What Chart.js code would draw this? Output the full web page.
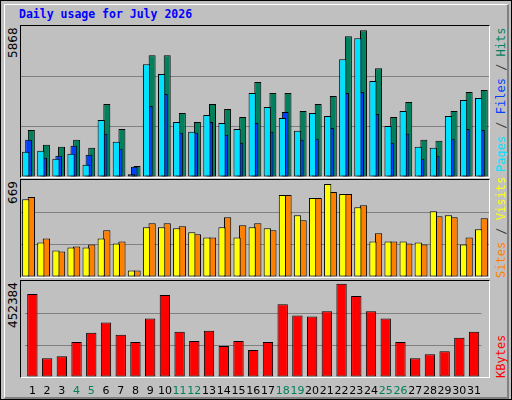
<!DOCTYPE html>
<html><head><meta charset="utf-8">
<script src="https://cdn.jsdelivr.net/npm/chart.js@4/dist/chart.umd.min.js"></script>
<style>
html,body{margin:0;padding:0;background:#fff}
#frame{position:absolute;left:0;top:0;width:510px;height:398px;background:#c0c0c0;border:1px solid #000;}
#inner{position:absolute;left:3px;top:3px;width:502px;height:392px;border-top:1px solid #fff;border-left:1px solid #fff;border-right:2px solid #808080;border-bottom:2px solid #808080}
.panel{position:absolute;left:20px;width:470px;background:#c0c0c0;border-top:1px solid #000;border-left:1px solid #000;border-right:1px solid #fff;border-bottom:1px solid #fff;box-sizing:border-box}
canvas{position:absolute}
.vt{position:absolute;writing-mode:vertical-rl;transform:rotate(180deg);font-family:"DejaVu Sans Mono",monospace;white-space:nowrap}
#title{position:absolute;left:19px;top:7px;font:bold 11.5px "DejaVu Sans Mono",monospace;color:#0000ff}
</style></head><body>
<div id="frame"><div id="inner"></div></div>
<div id="title">Daily usage for July 2026</div>
<div class="panel" style="top:25px;height:153px"></div>
<div class="panel" style="top:179px;height:99px"></div>
<div class="panel" style="top:280px;height:98px"></div>
<div class="vt" style="left:6px;top:27px;height:40px;text-align:end;font-size:12px;font-family:'DejaVu Sans',sans-serif">5868</div>
<div class="vt" style="left:6px;top:181px;height:30px;text-align:end;font-size:12px;font-family:'DejaVu Sans',sans-serif">669</div>
<div class="vt" style="left:6px;top:282px;height:60px;text-align:end;font-size:12px;font-family:'DejaVu Sans',sans-serif">452384</div>
<div class="vt" style="left:494px;top:27px;height:150px;text-align:end;font-size:12px"><span style="color:#00e0ff">Pages</span><span style="color:#404040"> / </span><span style="color:#0040ff">Files</span><span style="color:#404040"> / </span><span style="color:#00805c">Hits</span></div>
<div class="vt" style="left:494px;top:196px;height:82px;text-align:start;font-size:12px"><span style="color:#ff8000">Sites</span><span style="color:#404040"> / </span><span style="color:#ffff00">Visits</span></div>
<div class="vt" style="left:494px;top:300px;height:78px;text-align:start;font-size:12px"><span style="color:#ff0000">KBytes</span></div>
<canvas id="c1" style="left:21px;top:26px"></canvas>
<canvas id="c2" style="left:21px;top:180px"></canvas>
<canvas id="c3" style="left:21px;top:281px"></canvas>
<script>
const days=["1","2","3","4","5","6","7","8","9","10","11","12","13","14","15","16","17","18","19","20","21","22","23","24","25","26","27","28","29","30","31"];
const weekendDays=["4","5","11","12","18","19","25","26"];
const hits=[1831,1251,1174,1444,1135,2837,1870,426,4733,4733,2489,2141,2837,2644,2334,3688,3263,3263,2566,2837,3147,5468,5700,4230,2334,2915,1444,1406,2566,3302,3379];
const files=[980,1019,709,903,477,2218,1367,103,4385,3998,2141,1754,2412,2102,1870,3263,2721,2296,1793,2489,2373,4578,5391,3727,1986,2566,1174,1135,2373,2992,3069];
const pages=[1444,748,825,1212,864,1677,1096,400,2760,3224,1715,1715,2141,1638,1328,2102,1754,2528,1444,1483,1909,3263,3302,2450,1328,1677,709,825,1483,1870,1831];
const visits=[537,238,183,204,204,266,231,44,343,343,336,308,273,343,273,343,336,565,426,544,641,572,481,245,245,245,238,454,426,225,329];
const sites=[551,266,176,211,225,322,245,44,370,370,350,294,273,412,357,370,322,565,391,544,586,572,495,301,245,231,225,419,412,273,405];
const kbytes=[391412,88230,97855,165234,208547,256673,198922,165234,275924,386600,213360,170046,218173,145983,170046,126733,165234,343286,290361,285548,309610,439546,381795,309610,275924,165234,88230,107480,121917,184484,213360];
const maxHits=5868, maxSites=669, maxKB=452384;

function sizeCanvas(id,w,h){const c=document.getElementById(id);c.style.width=w+'px';c.style.height=h+'px';c.width=w;c.height=h;return c;}
function yScale(max){return {min:0,max:max,display:true,border:{display:false},
  ticks:{display:false,stepSize:max/3},
  grid:{drawTicks:false,color:(c)=>(c.index===0||c.index===3)?'rgba(0,0,0,0)':'#808080',lineWidth:1}};}
function bar(data,color,extra){return Object.assign({data:data,backgroundColor:color,borderColor:'#000',borderWidth:1,borderSkipped:false},extra);}
const base={responsive:false,animation:false,layout:{padding:0},plugins:{legend:{display:false},tooltip:{enabled:false}}};

new Chart(sizeCanvas('c1',468,151),{type:'bar',data:{labels:days,datasets:[
  bar(hits,'#00805c',{order:3,categoryPercentage:0.74,barPercentage:1.25}),
  bar(pages,'#0040ff',{order:2,grouped:false,categoryPercentage:0.74,barPercentage:0.6}),
  bar(files,'#00e0ff',{order:1,categoryPercentage:0.74,barPercentage:1.3})
]},options:Object.assign({},base,{scales:{x:{display:false},y:yScale(maxHits)}})});

new Chart(sizeCanvas('c2',468,97),{type:'bar',data:{labels:days,datasets:[
  bar(visits,'#ffff00',{categoryPercentage:0.74,barPercentage:1.3}),
  bar(sites,'#ff8000',{categoryPercentage:0.74,barPercentage:1.3})
]},options:Object.assign({},base,{scales:{x:{display:false},y:yScale(maxSites)}})});

new Chart(sizeCanvas('c3',468,117),{type:'bar',data:{labels:days,datasets:[
  bar(kbytes,'#ff0000',{categoryPercentage:0.74,barPercentage:0.95})
]},options:Object.assign({},base,{scales:{
  x:{display:true,border:{display:false},grid:{display:false,drawTicks:false},
     afterFit:(s)=>{s.height=21;},
     ticks:{padding:8,maxRotation:0,autoSkip:false,font:{family:'DejaVu Sans',size:11},
       color:(c)=>weekendDays.includes(days[c.index])?'#00805c':'#000'}},
  y:yScale(maxKB)}})});
</script>
</body></html>
